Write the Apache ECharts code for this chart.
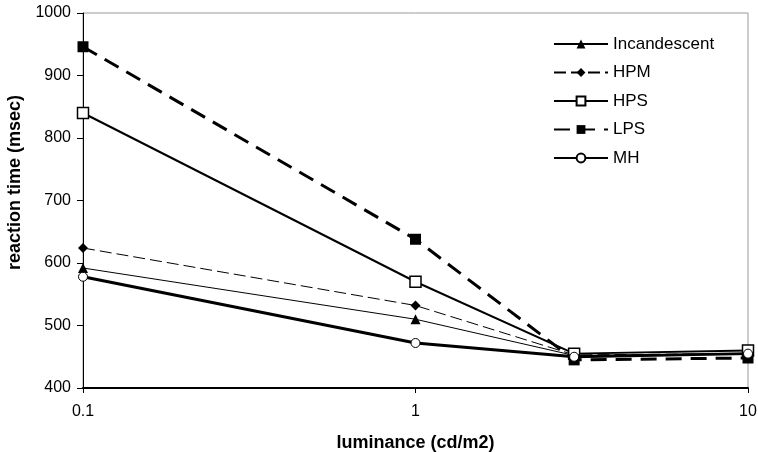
<!DOCTYPE html>
<html>
<head>
<meta charset="utf-8">
<script src="https://cdn.jsdelivr.net/npm/echarts@6/dist/echarts.min.js"></script>
<style>
  html,body{margin:0;padding:0;background:#fff;}
  #chart{width:758px;height:452px;}
</style>
</head>
<body>
<div id="chart"></div>
<script>
var luminance=[0.1,1,3,10];
var incandescent=[592,510,452,455];
var hpm=[624,532,453,455];
var hps=[840,570,455,460];
var lps=[946,638,445,448];
var mh=[578,472,450,455];

function pairs(vals)
{
  var out=[];
  for(var i=0;i<luminance.length;i++)
  {
    out.push([luminance[i],vals[i]]);
  }
  return out;
}

var chart=echarts.init(document.getElementById('chart'));
var font='"Liberation Sans", Arial, sans-serif';
var option={
  animation:false,
  backgroundColor:'#fff',
  grid:{left:83,right:10,top:13,bottom:64,outerBoundsMode:'none',containLabel:false,
    show:true,borderColor:'#999',borderWidth:1},
  legend:{
    orient:'vertical',
    left:548,
    top:30,
    itemWidth:54,
    itemHeight:11,
    itemGap:10.5,
    textStyle:{color:'#000',fontFamily:font,fontSize:17,lineHeight:18},
    data:['Incandescent','HPM','HPS','LPS','MH']
  },
  xAxis:{
    type:'log',
    logBase:10,
    min:0.1,
    max:10,
    name:'luminance (cd/m2)',
    nameLocation:'middle',
    nameGap:46,
    nameTextStyle:{color:'#000',fontFamily:font,fontSize:18,fontWeight:'bold'},
    axisLine:{lineStyle:{color:'#000',width:2}},
    axisTick:{show:true,inside:false,length:5,lineStyle:{color:'#000'}},
    minorTick:{show:false},
    splitLine:{show:false},
    axisLabel:{color:'#000',fontFamily:font,fontSize:16,margin:16,
      formatter:function(v){return String(v);}}
  },
  yAxis:{
    type:'value',
    min:400,
    max:1000,
    interval:100,
    name:'reaction time (msec)',
    nameLocation:'middle',
    nameGap:57,
    nameTextStyle:{color:'#000',fontFamily:font,fontSize:18,fontWeight:'bold',padding:[0,0,0,36]},
    axisLine:{show:true,lineStyle:{color:'#000',width:1}},
    axisTick:{show:true,length:6,lineStyle:{color:'#000'}},
    splitLine:{show:false},
    axisLabel:{color:'#000',fontFamily:font,fontSize:16,margin:12,
      formatter:function(v){return String(v);}}
  },
  series:[
    {
      name:'Incandescent',type:'line',data:pairs(incandescent),
      symbol:'triangle',symbolSize:10,
      lineStyle:{color:'#000',width:1},
      itemStyle:{color:'#000'}
    },
    {
      name:'HPM',type:'line',data:pairs(hpm),
      symbol:'diamond',symbolSize:10,
      lineStyle:{color:'#000',width:1,type:[12,5]},
      itemStyle:{color:'#000'}
    },
    {
      name:'HPS',type:'line',data:pairs(hps),
      symbol:'rect',symbolSize:11,
      lineStyle:{color:'#000',width:2},
      itemStyle:{color:'#fff',borderColor:'#000',borderWidth:1.5}
    },
    {
      name:'LPS',type:'line',data:pairs(lps),
      symbol:'rect',symbolSize:11,
      lineStyle:{color:'#000',width:3,type:[16,9]},
      itemStyle:{color:'#000'}
    },
    {
      name:'MH',type:'line',data:pairs(mh),
      symbol:'circle',symbolSize:9,
      lineStyle:{color:'#000',width:3},
      itemStyle:{color:'#fff',borderColor:'#000',borderWidth:1}
    }
  ]
};
chart.setOption(option);
</script>
</body>
</html>
